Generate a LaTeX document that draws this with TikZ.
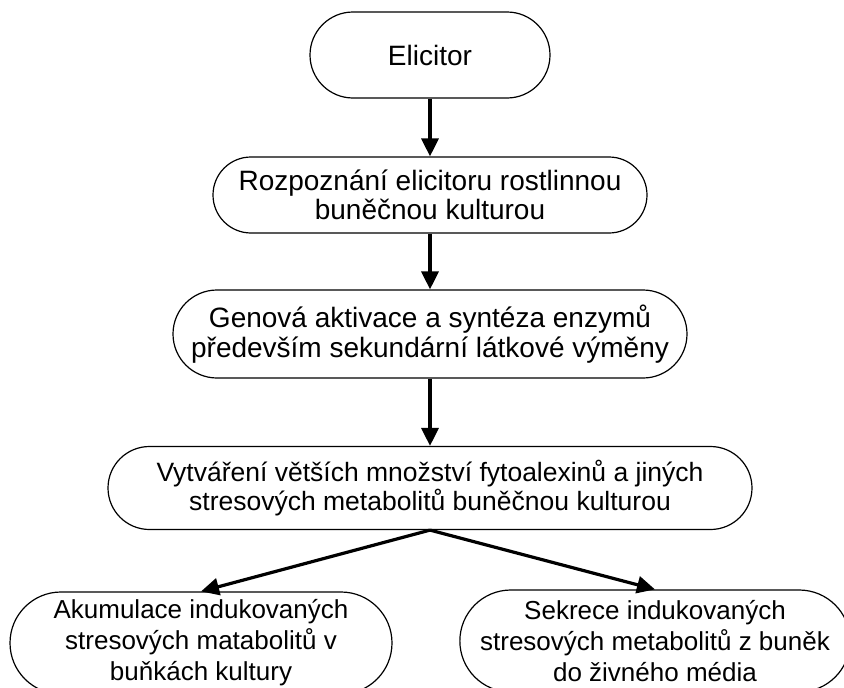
\documentclass[tikz,border=0pt]{standalone}
\usepackage{fontspec}
\setmainfont{Liberation Sans}
\usetikzlibrary{arrows.meta,shapes.misc}
\begin{document}
\begin{tikzpicture}[x=1pt,y=-1pt,
  stadium/.style={rounded rectangle, draw=black, line width=1.2pt, inner sep=0pt,
    align=center, text=black},
  big/.style={font=\fontsize{28}{29.5}\selectfont},
  mid/.style={font=\fontsize{26.5}{29.5}\selectfont},
  small/.style={font=\fontsize{26}{31}\selectfont},
  arr/.style={line width=3.2pt, -{Triangle[length=18pt,width=17pt]}}]
\useasboundingbox (0,0) rectangle (844,688);
\fill[white] (0,0) rectangle (844,688);
\node[stadium, big, minimum width=240pt, minimum height=86pt] (e) at (430,55) {Elicitor};
\node[stadium, big, minimum width=434pt, minimum height=76pt] (r) at (430,195)
  {Rozpoznání elicitoru rostlinnou\\buněčnou kulturou};
\node[stadium, big, minimum width=514pt, minimum height=88pt] (g) at (430,334)
  {Genová aktivace a syntéza enzymů\\především sekundární látkové výměny};
\node[stadium, mid, minimum width=644pt, minimum height=83pt] (v) at (430,488)
  {Vytváření větších množství fytoalexinů a jiných\\stresových metabolitů buněčnou kulturou};
\node[stadium, small, minimum width=382pt, minimum height=102pt] (a) at (201,643)
  {Akumulace indukovaných\\stresových matabolitů v\\buňkách kultury};
\node[stadium, small, minimum width=376pt, minimum height=102pt] (s) at (655,641)
  {Sekrece indukovaných\\stresových metabolitů z buněk\\do živného média};
\draw[arr] (e.south) -- (r.north);
\draw[arr] (r.south) -- (g.north);
\draw[arr] (g.south) -- (v.north);
\draw[arr] (v.south) -- (a.north);
\draw[arr] (v.south) -- (s.north);
\end{tikzpicture}
\end{document}
